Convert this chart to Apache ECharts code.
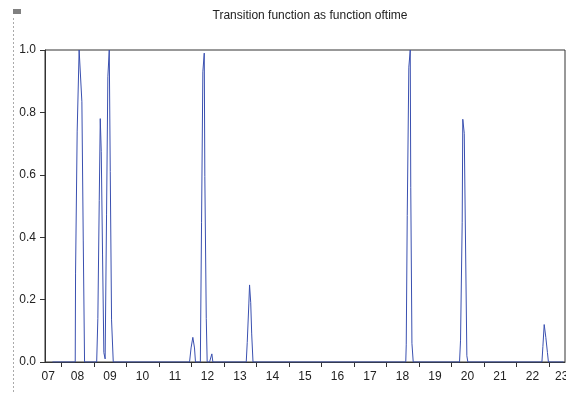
<!DOCTYPE html>
<html>
<head>
<meta charset="utf-8">
<script src="https://cdn.jsdelivr.net/npm/echarts@6/dist/echarts.min.js"></script>
<style>html,body{margin:0;padding:0;background:#fff}#c{width:566px;height:394px}</style>
</head>
<body>
<div id="c"></div>
<script>
// Tick labels (two-digit years)
const yearLabels = ['07','08','09','10','11','12','13','14','15','16','17','18','19','20','21','22','23'];
const tickYears = [2008,2009,2010,2011,2012,2013,2014,2015,2016,2017,2018,2019,2020,2021,2022,2023];
const xMin = 2007.5, xMax = 2023.5;

// Time (fractional years) and transition function values
const t = [
  2007.73, 2008.43, 2008.44, 2008.49, 2008.55, 2008.60, 2008.635, 2008.677, 2008.717,
  2009.09, 2009.126, 2009.169, 2009.20, 2009.231, 2009.271, 2009.311, 2009.35, 2009.394, 2009.434, 2009.477, 2009.508, 2009.548, 2009.60,
  2011.948, 2011.994, 2012.049, 2012.10, 2012.13,
  2012.28, 2012.317, 2012.357, 2012.40, 2012.418, 2012.462, 2012.49,
  2012.563, 2012.634, 2012.665,
  2013.692, 2013.723, 2013.772, 2013.794, 2013.83, 2013.86, 2013.90,
  2018.60, 2018.615, 2018.646, 2018.695, 2018.738, 2018.754, 2018.79, 2018.83,
  2020.255, 2020.286, 2020.337, 2020.355, 2020.40, 2020.44, 2020.48, 2020.51,
  2022.79, 2022.82, 2022.86, 2022.88, 2022.91, 2022.96, 2022.99,
  2023.45
];
const v = [
  0, 0, 0.285, 0.74, 1.0, 1.0, 0.834, 0.388, 0,
  0, 0.14, 0.517, 0.78, 0.674, 0.343, 0.03, 0.01, 0.474, 0.914, 1.0, 0.61, 0.135, 0,
  0, 0.045, 0.079, 0.045, 0,
  0, 0.448, 0.93, 0.99, 0.594, 0.14, 0,
  0, 0.026, 0,
  0, 0.063, 0.186, 0.247, 0.19, 0.09, 0,
  0, 0.055, 0.47, 0.945, 1.0, 0.56, 0.06, 0,
  0, 0.07, 0.448, 0.778, 0.733, 0.375, 0.02, 0,
  0, 0.05, 0.12, 0.126, 0.079, 0.03, 0,
  0
];

const labelPos = yearLabels.map((s, i) => {
  const y = 2007 + i + 0.5;
  return Math.min(Math.max(y, xMin + 0.1), xMax - 0.1);
});
const labelMap = {};
labelPos.forEach((p, i) => { labelMap[p.toFixed(3)] = yearLabels[i]; });

const chart = echarts.init(document.getElementById('c'), null, {renderer: 'canvas'});
const font = 'Liberation Sans, Arial, sans-serif';
chart.setOption({
  animation: false,
  backgroundColor: '#fff',
  title: {
    text: 'Transition function as function oftime',
    left: 305, top: 5, textAlign: 'center',
    textStyle: {fontFamily: font, fontSize: 12, fontWeight: 'normal', color: '#222'}
  },
  graphic: [
    {type: 'rect', shape: {x: 13, y: 9, width: 8, height: 5}, style: {fill: '#808080'}},
    {type: 'line', shape: {x1: 13.5, y1: 18, x2: 13.5, y2: 394}, style: {stroke: '#aaa', lineWidth: 1, lineDash: [2, 2]}}
  ],
  grid: {left: 45, right: 1, top: 50, bottom: 32, show: true, borderColor: '#333', borderWidth: 1,
         containLabel: false, outerBoundsMode: 'none'},
  xAxis: {
    type: 'value', min: xMin, max: xMax,
    splitLine: {show: false},
    axisLine: {show: true, onZero: false, lineStyle: {color: '#333'}},
    axisTick: {show: true, inside: false, length: 5, customValues: tickYears, lineStyle: {color: '#333'}},
    axisLabel: {
      customValues: labelPos, margin: 9, hideOverlap: false,
      fontFamily: font, fontSize: 12, color: '#222',
      formatter: (val) => labelMap[Number(val).toFixed(3)] || ''
    }
  },
  yAxis: {
    type: 'value', min: 0, max: 1, interval: 0.2,
    splitLine: {show: false},
    axisLine: {show: true, lineStyle: {color: '#333'}},
    axisTick: {show: true, inside: false, length: 5, lineStyle: {color: '#333'}},
    axisLabel: {margin: 9, fontFamily: font, fontSize: 12, color: '#222', formatter: (x) => x.toFixed(1)}
  },
  series: [{
    type: 'line',
    data: t.map((x, i) => [x, v[i]]),
    showSymbol: false, symbol: 'none',
    lineStyle: {color: '#3a50b0', width: 1},
    clip: true
  }]
});
</script>
</body>
</html>
